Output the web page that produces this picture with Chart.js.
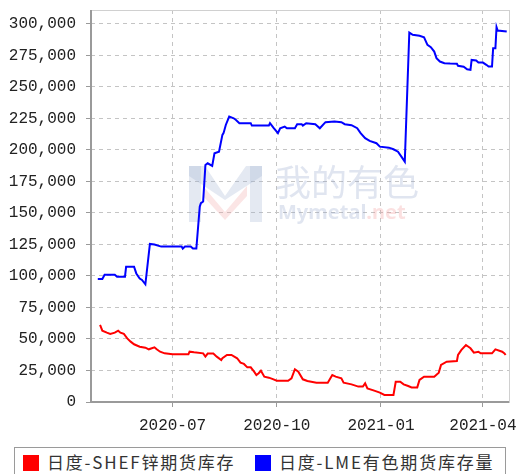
<!DOCTYPE html>
<html>
<head>
<meta charset="utf-8">
<script src="https://cdn.jsdelivr.net/npm/chart.js@4/dist/chart.umd.min.js"></script>
<style>
  html, body { margin: 0; padding: 0; background: #fff; }
  #wrap { position: relative; width: 521px; height: 474px; overflow: hidden; }
  #c { position: absolute; left: 0; top: 0; }
  #legend {
    position: absolute; left: 14px; top: 447px; width: 492px; height: 40px;
    border: 1px solid #9a9a9a; box-sizing: border-box;
    font-family: "Noto Sans CJK SC", sans-serif; font-size: 17px; color: #333;
  }
  .item { position: absolute; top: 4px; white-space: nowrap; }
  .sw { position: absolute; top: 3px; width: 16px; height: 16px; }
  .txt { position: absolute; left: 24px; top: -3px; letter-spacing: 1.8px; }
</style>
</head>
<body>
<div id="wrap">
  <canvas id="c" width="521" height="447"></canvas>
  <div id="legend"></div>
</div>
<script>
// 日度库存: SHFE 锌 vs LME 有色
const tickLabels = ['2020-07', '2020-10', '2021-01', '2021-04'];
const yTicks = [0, 25000, 50000, 75000, 100000, 125000, 150000, 175000, 200000, 225000, 250000, 275000, 300000];

const redLabel = '日度-SHEF锌期货库存';
const redDates = [
    '2020-04-28', '2020-04-30', '2020-05-04', '2020-05-07', '2020-05-11', '2020-05-14', '2020-05-16', '2020-05-19',
    '2020-05-22', '2020-05-25', '2020-05-28', '2020-06-02', '2020-06-07', '2020-06-10', '2020-06-15', '2020-06-17',
    '2020-06-20', '2020-06-24', '2020-07-01', '2020-07-15', '2020-07-16', '2020-07-20', '2020-07-28', '2020-07-30',
    '2020-08-01', '2020-08-06', '2020-08-09', '2020-08-13', '2020-08-14', '2020-08-18', '2020-08-22', '2020-08-27',
    '2020-08-30', '2020-09-02', '2020-09-05', '2020-09-08', '2020-09-11', '2020-09-13', '2020-09-15', '2020-09-17',
    '2020-09-20', '2020-09-24', '2020-09-27', '2020-10-01', '2020-10-11', '2020-10-14', '2020-10-17', '2020-10-20',
    '2020-10-24', '2020-10-28', '2020-11-05', '2020-11-15', '2020-11-19', '2020-11-22', '2020-11-27', '2020-11-29',
    '2020-12-06', '2020-12-12', '2020-12-16', '2020-12-18', '2020-12-20', '2020-12-26', '2020-12-31', '2021-01-04',
    '2021-01-12', '2021-01-14', '2021-01-18', '2021-01-21', '2021-01-25', '2021-01-28', '2021-02-02', '2021-02-04',
    '2021-02-08', '2021-02-17', '2021-02-21', '2021-02-23', '2021-02-28', '2021-03-09', '2021-03-10', '2021-03-13',
    '2021-03-17', '2021-03-21', '2021-03-24', '2021-03-28', '2021-03-30', '2021-04-09', '2021-04-12', '2021-04-18',
    '2021-04-20', '2021-04-21'
];
const redValues = [
    61100, 56600, 55000, 54000, 55000, 56600, 55000, 54000,
    50500, 47900, 45800, 43900, 43100, 41800, 43400, 41800,
    39900, 38600, 37800, 37800, 39900, 39400, 38600, 36000,
    38400, 38400, 36000, 33300, 34700, 37300, 37300, 34700,
    31200, 30200, 27500, 27500, 24100, 21400, 22800, 24800,
    20100, 19300, 18300, 16900, 16900, 18800, 26000, 24100,
    18000, 16700, 15300, 15300, 21400, 20100, 18800, 15300,
    14000, 12200, 12200, 14800, 10800, 9000, 7400, 5600,
    5600, 16100, 16100, 14000, 12700, 11600, 11600, 17500,
    20100, 20100, 23300, 29400, 32000, 32500, 37300, 41300,
    45200, 42600, 39100, 39900, 38600, 38600, 41800, 39900,
    38600, 37300
];

const blueLabel = '日度-LME有色期货库存量';
const blueDates = [
    '2020-04-26', '2020-04-30', '2020-05-02', '2020-05-11', '2020-05-13', '2020-05-20', '2020-05-21', '2020-05-28',
    '2020-05-30', '2020-06-02', '2020-06-04', '2020-06-07', '2020-06-11', '2020-06-15', '2020-06-21', '2020-07-09',
    '2020-07-10', '2020-07-12', '2020-07-17', '2020-07-19', '2020-07-22', '2020-07-25', '2020-07-26', '2020-07-28',
    '2020-07-30', '2020-08-01', '2020-08-05', '2020-08-07', '2020-08-11', '2020-08-14', '2020-08-15', '2020-08-17',
    '2020-08-20', '2020-08-24', '2020-08-26', '2020-08-29', '2020-09-08', '2020-09-09', '2020-09-24', '2020-09-25',
    '2020-09-28', '2020-10-02', '2020-10-04', '2020-10-08', '2020-10-10', '2020-10-17', '2020-10-19', '2020-10-23',
    '2020-10-24', '2020-10-27', '2020-11-04', '2020-11-08', '2020-11-13', '2020-11-21', '2020-11-27', '2020-11-30',
    '2020-12-06', '2020-12-11', '2020-12-14', '2020-12-18', '2020-12-22', '2020-12-28', '2020-12-31', '2021-01-08',
    '2021-01-12', '2021-01-16', '2021-01-19', '2021-01-22', '2021-01-26', '2021-01-29', '2021-02-04', '2021-02-08',
    '2021-02-11', '2021-02-14', '2021-02-17', '2021-02-19', '2021-02-22', '2021-02-26', '2021-03-03', '2021-03-09',
    '2021-03-10', '2021-03-15', '2021-03-18', '2021-03-21', '2021-03-22', '2021-03-26', '2021-03-28', '2021-04-01',
    '2021-04-04', '2021-04-06', '2021-04-09', '2021-04-10', '2021-04-12', '2021-04-13', '2021-04-14', '2021-04-22'
];
const blueValues = [
    97600, 97600, 101000, 101000, 99400, 99400, 107400, 107400,
    102000, 98000, 96800, 93400, 125400, 125000, 123300, 123300,
    121700, 123300, 123300, 121700, 121700, 155000, 157700, 159000,
    188000, 189400, 187300, 197300, 198600, 211900, 213300, 219800,
    226400, 225100, 223800, 221200, 221200, 219300, 219300, 221200,
    217700, 213300, 217200, 218500, 217200, 217200, 220400, 220400,
    219300, 221200, 220400, 217200, 222000, 222500, 222000, 220400,
    219600, 217200, 213300, 209300, 207100, 205300, 202600, 201800,
    200500, 198600, 194700, 190700, 293100, 291300, 290500, 289400,
    283300, 281500, 278000, 272800, 270100, 268800, 268500, 268300,
    266700, 266000, 264000, 263500, 271400, 271000, 269300, 269300,
    267500, 266100, 266100, 280700, 280700, 297400, 294700, 293900
];

function dayNum(s) {
    const p = s.split('-').map(Number);
    return Date.UTC(p[0], p[1] - 1, p[2] || 1) / 86400000;
}
function toPoints(dates, values) {
    return dates.map((d, i) => ({ x: dayNum(d), y: values[i] }));
}

const axisFont = { family: '"Liberation Mono", monospace', size: 16 };

const framePlugin = {
    id: 'frame',
    beforeDatasetsDraw(chart) {
        const { ctx } = chart;
        ctx.save();
        // faint watermark
        ctx.globalAlpha = 0.28;
        ctx.fillStyle = '#9fb0d0';
        ctx.fillRect(189, 166, 12, 56);
        ctx.fillRect(250, 166, 12, 56);
        ctx.beginPath();
        ctx.moveTo(189, 166); ctx.lineTo(205, 166); ctx.lineTo(225, 196); ctx.lineTo(246, 166);
        ctx.lineTo(262, 166); ctx.lineTo(262, 176); ctx.lineTo(225, 200); ctx.lineTo(189, 176);
        ctx.closePath(); ctx.fill();
        ctx.fillStyle = '#f0a0a0';
        ctx.beginPath();
        ctx.moveTo(203, 186); ctx.lineTo(225, 212); ctx.lineTo(247, 186); ctx.lineTo(247, 196);
        ctx.lineTo(225, 220); ctx.lineTo(203, 196); ctx.closePath(); ctx.fill();
        ctx.fillStyle = '#8fa3c8';
        ctx.font = '36px "Noto Sans CJK SC"';
        ctx.textBaseline = 'middle';
        ctx.fillText('我的有色', 275, 182);
        ctx.font = 'bold 20px "Noto Sans"';
        ctx.fillText('Mymetal', 278, 213);
        const w = ctx.measureText('Mymetal').width;
        ctx.fillStyle = '#f09090';
        ctx.fillText('.net', 278 + w, 213);
        ctx.restore();
    },
    afterDraw(chart) {
        const { ctx, chartArea: a } = chart;
        ctx.save();
        ctx.strokeStyle = '#d0d0d0';
        ctx.lineWidth = 1;
        ctx.strokeRect(a.left + 0.5, a.top + 0.5, a.right - a.left, a.bottom - a.top);
        ctx.strokeStyle = '#9a9a9a';
        ctx.lineWidth = 2;
        ctx.beginPath();
        ctx.moveTo(a.left, a.top);
        ctx.lineTo(a.left, a.bottom);
        ctx.lineTo(a.right, a.bottom);
        ctx.stroke();
        ctx.restore();
    }
};

const chart = new Chart(document.getElementById('c'), {
    type: 'line',
    data: {
        datasets: [
            {
                label: redLabel,
                data: toPoints(redDates, redValues),
                borderColor: '#ff0000',
                backgroundColor: '#ff0000',
                borderWidth: 2,
                pointRadius: 0,
                tension: 0
            },
            {
                label: blueLabel,
                data: toPoints(blueDates, blueValues),
                borderColor: '#0000ff',
                backgroundColor: '#0000ff',
                borderWidth: 2,
                pointRadius: 0,
                tension: 0
            }
        ]
    },
    options: {
        responsive: false,
        animation: false,
        layout: { padding: { left: 0, right: 12, top: 10, bottom: 0 } },
        plugins: { legend: { display: false }, tooltip: { enabled: false } },
        scales: {
            x: {
                type: 'linear',
                min: dayNum('2020-04-20'),
                max: dayNum('2021-04-24'),
                afterBuildTicks: s => { s.ticks = tickLabels.map(t => ({ value: dayNum(t) })); },
                afterFit: s => { s.height = 45; s.paddingLeft = 0; s.paddingRight = 0; },
                ticks: {
                    font: axisFont,
                    color: '#222',
                    padding: 9,
                    maxRotation: 0,
                    callback: (v, i) => tickLabels[i]
                },
                grid: { color: '#c4c4c4', tickColor: '#9a9a9a', tickLength: 5, tickBorderDash: [] },
                border: { display: false, dash: [4, 4] }
            },
            y: {
                min: 0,
                max: 311000,
                afterBuildTicks: s => { s.ticks = yTicks.map(v => ({ value: v })); },
                afterFit: s => { s.width = 91; s.paddingTop = 0; s.paddingBottom = 0; },
                ticks: {
                    font: axisFont,
                    color: '#222',
                    padding: 10,
                    callback: v => v.toLocaleString('en-US')
                },
                grid: { color: '#c4c4c4', tickColor: '#9a9a9a', tickLength: 5, tickBorderDash: [] },
                border: { display: false, dash: [4, 4] }
            }
        }
    },
    plugins: [framePlugin]
});

// legend box under the plot
const legendEl = document.getElementById('legend');
const legendX = [8, 240];
chart.data.datasets.forEach((ds, i) => {
    const item = document.createElement('div');
    item.className = 'item';
    item.style.left = legendX[i] + 'px';
    item.innerHTML = '<span class="sw" style="background:' + ds.borderColor + '"></span>' +
        '<span class="txt">' + ds.label + '</span>';
    legendEl.appendChild(item);
});
</script>
</body>
</html>
